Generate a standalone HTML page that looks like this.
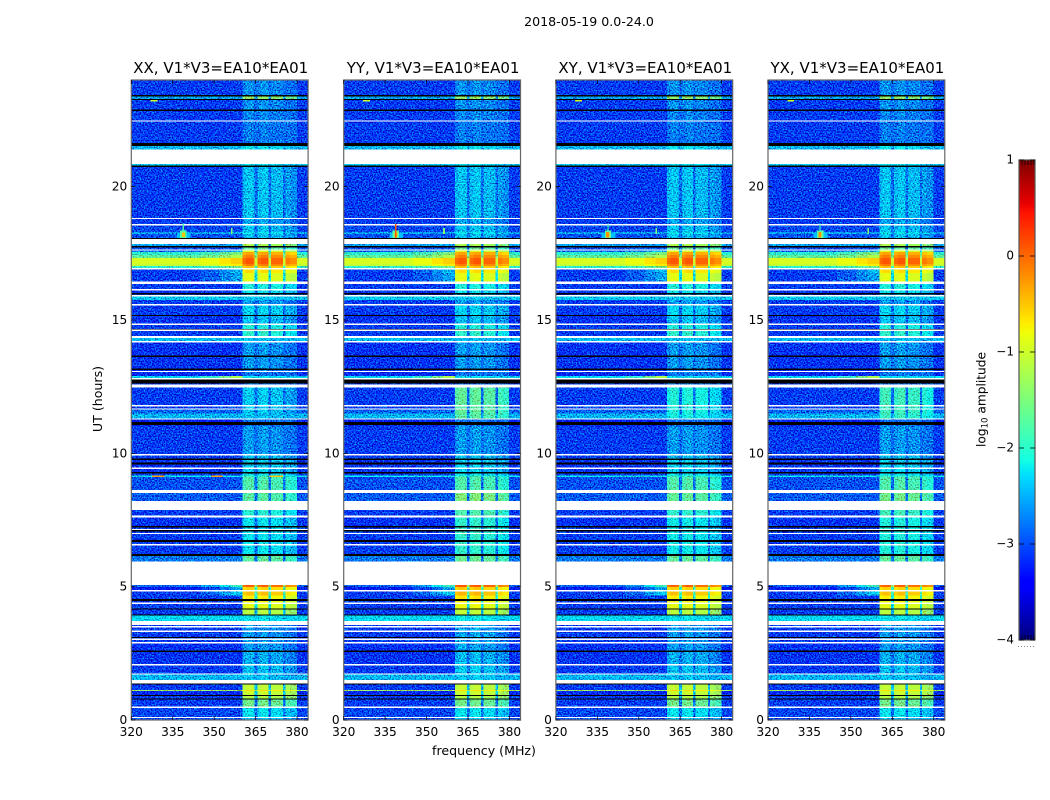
<!DOCTYPE html>
<html lang="en">
<head>
<meta charset="utf-8">
<title>2018-05-19 0.0-24.0</title>
<style>
html,body{margin:0;padding:0;background:#fff;width:1050px;height:800px;overflow:hidden}
svg{display:block}
text{font-family:"DejaVu Sans","Liberation Sans",sans-serif;fill:#000}
</style>
</head>
<body>
<svg id="figure" width="1050" height="800" viewBox="0 0 1050 800" xmlns="http://www.w3.org/2000/svg">
  <defs>
    <filter id="speckle" x="0" y="0" width="1" height="1" filterUnits="objectBoundingBox" color-interpolation-filters="sRGB">
      <feTurbulence type="fractalNoise" baseFrequency="0.72" numOctaves="1" seed="7" result="t"/>
      <feColorMatrix in="t" type="matrix" values="0 0 0 0 0.5  1.9 0 0 0 -0.45  1.4 0 0 0 -0.2  0 0 0 0 1" result="n"/>
      <feComposite in="SourceGraphic" in2="n" operator="arithmetic" k1="0" k2="1" k3="1" k4="-0.5" result="m"/>
      <feComposite in="m" in2="SourceAlpha" operator="in"/>
    </filter>
  </defs>
  <text x="589" y="26" text-anchor="middle" font-size="12.6">2018-05-19 0.0-24.0</text>
  <text x="484" y="755" text-anchor="middle" font-size="12.6">frequency (MHz)</text>
  <text transform="translate(102 399) rotate(-90)" text-anchor="middle" font-size="12.6">UT (hours)</text>
  <text transform="translate(985.5 399.5) rotate(-90)" text-anchor="middle" font-size="12.2">log<tspan font-size="8.6" dy="2">10</tspan><tspan dy="-2"> amplitude</tspan></text>
  <g id="panels"></g>
  <g id="colorbar"></g>
</svg>
<script>
// ---- chart data ----
const N = null;   // no data: white gap
const K = -9;     // masked: black row

const panelTitles = ["XX, V1*V3=EA10*EA01", "YY, V1*V3=EA10*EA01", "XY, V1*V3=EA10*EA01", "YX, V1*V3=EA10*EA01"];
const xTicks = [320, 335, 350, 365, 380];
const yTicks = [0, 5, 10, 15, 20];
const colorTicks = [1, 0, -1, -2, -3, -4];

// UT row boundaries (hours), top to bottom
const timeEdges = [24.00,
  23.44,23.39,23.29,23.25,22.89,22.86,22.49,22.45,21.64,21.53,
  21.39,20.85,20.79,20.75,18.83,18.79,18.60,18.555,18.30,18.225,
  18.075,18.03,17.85,17.775,17.72,17.65,17.62,17.55,17.44,17.325,
  17.10,17.025,16.95,16.90,16.76,16.44,16.35,16.16,16.12,16.01,
  15.975,15.93,15.89,15.75,15.60,15.56,15.19,15.15,14.87,14.83,
  14.67,14.64,14.60,14.40,14.325,14.21,14.175,13.67,13.64,13.18,
  13.14,13.09,13.05,12.90,12.825,12.77,12.62,12.58,12.55,12.525,
  12.49,11.81,11.76,11.69,11.64,11.49,11.31,11.28,11.175,11.055,
  11.00,9.975,9.94,9.80,9.75,9.65,9.59,9.46,9.41,9.30,
  9.24,9.17,9.11,8.625,8.595,8.57,8.54,8.22,7.875,7.66,
  7.59,7.275,7.23,7.16,7.125,7.09,7.02,6.99,6.75,6.675,
  6.60,6.56,6.225,6.15,5.94,5.06,4.98,4.875,4.84,4.66,
  4.53,4.47,4.40,4.36,4.19,4.14,3.96,3.91,3.72,3.56,
  3.525,3.49,3.35,3.31,3.12,3.09,3.05,3.01,2.925,2.895,
  2.60,2.56,2.10,2.06,1.75,1.71,1.50,1.375,1.34,1.125,
  1.09,0.94,0.90,0.81,0.78,0.50,0.46,0.12,0.075,0];

// log10 amplitude outside the signal band, one per row
const rowBackground = [
  -3.1,K,-2.6,K,-3.1,K,-3.1,N,-3.1,K,
  -2.5,N,-2.4,K,-3.1,N,-3.1,N,-3.05,-2.6,
  -3.0,K,N,-2.6,K,-3.0,N,-2.9,-2.0,-1.7,
  -0.95,-1.05,-2.0,N,-3.1,-3.1,N,-3.1,N,-3.15,
  K,-3.1,N,-2.4,-3.1,N,-3.1,K,-3.15,N,
  -3.1,K,N,-3.1,N,-2.45,N,-3.15,K,-3.15,
  K,-3.2,N,-3.2,-2.3,N,K,-3.1,N,-3.1,
  N,-3.1,N,-3.1,N,-2.9,-2.5,N,-3.25,K,
  -3.2,-3.1,N,-3.1,K,-3.15,K,-3.15,N,-3.15,
  K,-3.1,-2.2,-3.0,N,-3.0,N,-2.95,N,-3.1,
  N,-3.15,K,-3.1,N,K,-3.1,N,-3.1,K,
  -3.1,N,-3.1,K,-2.8,N,-2.9,-3.3,N,-3.1,
  -3.1,K,-3.1,N,-3.1,K,-3.1,K,-2.3,N,
  -3.1,N,-3.1,N,-3.1,K,-3.1,N,-3.1,N,
  -3.15,K,-3.15,N,-3.1,N,-2.5,N,K,-3.1,
  -1.3,-3.2,K,-3.1,K,-3.1,N,-3.05,N,-3.05];

// log10 amplitude inside the 360-380 MHz band, one per row (XX reference)
const rowSignal = [
  -2.65,K,-1.35,K,-2.65,K,-2.7,N,-2.75,K,
  -2.2,N,-2.2,K,-2.4,N,-2.55,N,-2.4,-2.2,
  -2.4,K,N,-1.2,K,-1.6,N,-0.9,-0.3,-0.1,
  0.1,-0.1,-0.45,N,-0.6,-0.85,N,-2.05,N,-2.2,
  K,-2.4,N,-2.4,-2.6,N,-2.3,K,-2.4,N,
  -2.05,K,N,-1.95,N,-2.4,N,-2.6,K,-2.6,
  K,-2.7,N,-2.8,-2.2,N,K,-2.8,N,-2.8,
  N,-2.35,N,-2.4,N,-2.35,-2.4,N,-2.85,K,
  -2.8,-2.6,N,-2.4,K,-2.3,K,-2.3,N,-2.3,
  K,-2.2,-1.9,-1.75,N,-1.8,N,-1.7,N,-2.0,
  N,-2.2,K,-2.2,N,K,-2.2,N,-2.2,K,
  -2.2,N,-2.2,K,-1.65,N,0.05,-0.55,N,-0.45,
  -0.7,K,-0.75,N,-0.85,K,-1.1,K,-2.2,N,
  -2.6,N,-2.6,N,-2.6,K,-2.6,N,-2.6,N,
  -2.6,K,-2.5,N,-2.4,N,-2.4,N,K,-1.05,
  -0.6,-1.0,K,-1.15,K,-1.55,N,-2.2,N,-2.4];

// spectral channel boundaries (MHz)
const channelEdges = [320,345,352,356,360.3,361.5,364,364.6,365.6,367,369.7,370.6,372,375,375.8,377.5,379.9,384];
// offset from rowSignal for each channel; null marks a channel outside the band
const channelOffset = [N,N,N,N,-0.1,0,-0.1,-1.4,-0.1,0,-1.4,-0.08,-0.08,-1.4,-0.2,-0.3,N];
// how far each channel leans toward the wing level
const channelWing = [0,0.3,0.7,1,0,0,0,0,0,0,0,0,0,0,0,0,0];

// leakage beside the band in strong rows
const wingHigh  = [17.62,17.55,17.44,17.325,17.10,17.025,16.90,16.76,12.90,5.06,4.98,4.84];
const wingLow   = [17.55,17.44,17.325,17.10,17.025,16.95,16.76,16.44,12.825,4.98,4.875,4.66];
const wingLevel = [-2.5,-1.5,-1.2,-0.55,-0.7,-1.6,-2.5,-2.6,-1.2,-1.9,-2.6,-2.4];

// polarisation offsets of the band level, per time region
const regionHigh = [24,12.6,8.6,6.2,1.5];
const regionLow  = [12.6,11.3,6.2,1.5,0];
const offsetXX = [0,0,0,0,0];
const offsetYY = [0,0.7,0.25,0.05,0];
const offsetXY = [0,0.3,0.05,0,0];
const offsetYX = [0,0.5,0.15,0,0];
const polOffsets = [offsetXX, offsetYY, offsetXY, offsetYX];

// narrow-band interference patches (panel -1 = every panel)
const rfiPanel    = [-1,-1,-1,-1,-1,-1,0,0,0,1,2,3];
const rfiFreqLow  = [336.5,337.7,338.6,338.3,327,356,327.5,349,370,338.6,338.2,338.2];
const rfiFreqHigh = [341.5,340,339,339.4,329.5,356.6,332,353,375,339.1,339.2,339.2];
const rfiHourHigh = [18.26,18.36,18.62,18.28,23.25,18.45,9.16,9.16,9.16,18.6,18.3,18.3];
const rfiHourLow  = [18.08,18.08,18.08,18.12,23.20,18.22,9.12,9.12,9.12,18.08,18.1,18.1];
const rfiLevel    = [-2.45,-1.7,-1.8,-0.5,-1.0,-1.5,-0.3,-0.3,-0.5,0.1,-0.2,-0.2];

// ---- layout and scales ----
const SVGNS = "http://www.w3.org/2000/svg";
const panelLeft = [131.3, 343.7, 555.9, 768];
const panelWidth = 176.8;
const plotTop = 80, plotBottom = 720;
const cbLeft = 1019, cbRight = 1035, cbTop = 160, cbBottom = 640;
const hotLevel = -1.3;      // cells above this are drawn without speckle
const bandFloor = -2.85;    // lowest level inside the band

function xScale(mhz, p) { return panelLeft[p] + (mhz - 320) / 64 * panelWidth; }
function yScale(h) { return plotBottom - h / 24 * (plotBottom - plotTop); }
function cbScale(v) { return cbBottom - (v + 4) / 5 * (cbBottom - cbTop); }

function seg(t, pts) {
  for (let i = 1; i < pts.length; i++) {
    if (t <= pts[i][0]) {
      const a = pts[i - 1], b = pts[i];
      return a[1] + (b[1] - a[1]) * (t - a[0]) / (b[0] - a[0]);
    }
  }
  return pts[pts.length - 1][1];
}
const jetR = [[0,0],[0.35,0],[0.66,1],[0.89,1],[1,0.5]];
const jetG = [[0,0],[0.125,0],[0.375,1],[0.64,1],[0.91,0],[1,0]];
const jetB = [[0,0.5],[0.11,1],[0.34,1],[0.65,0],[1,0]];
function jet(v) {
  const t = Math.min(1, Math.max(0, (v + 4) / 5));
  return "rgb(" + Math.round(seg(t, jetR) * 255) + "," + Math.round(seg(t, jetG) * 255) + "," + Math.round(seg(t, jetB) * 255) + ")";
}
function make(tag, attrs, parent) {
  const e = document.createElementNS(SVGNS, tag);
  for (const k in attrs) e.setAttribute(k, attrs[k]);
  parent.appendChild(e);
  return e;
}
function wingAt(high, low) {
  for (let i = 0; i < wingHigh.length; i++) {
    if (high <= wingHigh[i] + 1e-6 && low >= wingLow[i] - 1e-6) return wingLevel[i];
  }
  return null;
}
function polOffsetAt(p, high) {
  for (let i = 0; i < regionHigh.length; i++) {
    if (high <= regionHigh[i] && high > regionLow[i]) return polOffsets[p][i];
  }
  return 0;
}

// ---- draw panels ----
const panelsRoot = document.getElementById("panels");
panelTitles.forEach(function (title, p) {
  const g = make("g", {}, panelsRoot);
  
  

  const heat = make("g", { filter: "url(#speckle)", "shape-rendering": "crispEdges" }, g);
  
  
  const hot = make("g", { "shape-rendering": "crispEdges" }, g);
  
  
  const masks = make("g", { "shape-rendering": "crispEdges" }, g);
  
  

  for (let r = 0; r < rowBackground.length; r++) {
    const high = timeEdges[r], low = timeEdges[r + 1];
    const bg = rowBackground[r], sig = rowSignal[r];
    if (bg === N || bg === K) {
      const bar = make("rect", {
        x: xScale(320, p),
        y: yScale(high),
        width: panelWidth,
        height: Math.max(1.3, yScale(low) - yScale(high)),
        fill: bg === K ? "#000" : "#fff"
      }, masks);
      
      
      continue;
    }
    const wing = wingAt(high, low);
    const pol = polOffsetAt(p, high);
    for (let c = 0; c < channelOffset.length; c++) {
      let v;
      if (channelOffset[c] === N) {
        v = wing === null ? bg : bg + (wing - bg) * channelWing[c];
      } else {
        v = Math.max(bandFloor, bg - 0.05, sig + pol + channelOffset[c]);
      }
      const cell = make("rect", {
        x: xScale(channelEdges[c], p),
        y: yScale(high),
        width: xScale(channelEdges[c + 1], p) - xScale(channelEdges[c], p),
        height: yScale(low) - yScale(high),
        fill: jet(v)
      }, v > hotLevel ? hot : heat);
      
      
    }
  }

  for (let i = 0; i < rfiLevel.length; i++) {
    if (rfiPanel[i] !== -1 && rfiPanel[i] !== p) continue;
    const patch = make("rect", {
      x: xScale(rfiFreqLow[i], p),
      y: yScale(rfiHourHigh[i]),
      width: xScale(rfiFreqHigh[i], p) - xScale(rfiFreqLow[i], p),
      height: yScale(rfiHourLow[i]) - yScale(rfiHourHigh[i]),
      fill: jet(rfiLevel[i]),
      "shape-rendering": "crispEdges"
    }, g);
    
    
  }

  const frame = make("rect", { x: panelLeft[p], y: plotTop, width: panelWidth, height: plotBottom - plotTop, fill: "none", stroke: "#666", "stroke-width": 1.2 }, g);
  
  

  const titleEl = make("text", { x: panelLeft[p] + panelWidth / 2 + 1, y: 73, "text-anchor": "middle", "font-size": 15 }, g);
  titleEl.textContent = title;
  
  

  xTicks.forEach(function (t) {
    const x = xScale(t, p);
    const tickB = make("line", { x1: x, x2: x, y1: plotBottom, y2: plotBottom - 4, stroke: "#000", "stroke-width": 0.7 }, g);
    
    
    const tickT = make("line", { x1: x, x2: x, y1: plotTop, y2: plotTop + 4, stroke: "#000", "stroke-width": 0.7 }, g);
    
    
    const label = make("text", { x: x, y: 736, "text-anchor": "middle", "font-size": 12.2 }, g);
    label.textContent = t;
    
    
  });

  yTicks.forEach(function (t) {
    const y = yScale(t);
    const tickL = make("line", { x1: panelLeft[p], x2: panelLeft[p] + 4, y1: y, y2: y, stroke: "#000", "stroke-width": 0.7 }, g);
    
    
    const tickR = make("line", { x1: panelLeft[p] + panelWidth, x2: panelLeft[p] + panelWidth - 4, y1: y, y2: y, stroke: "#000", "stroke-width": 0.7 }, g);
    
    
    const label = make("text", { x: panelLeft[p] - 4, y: y + 4, "text-anchor": "end", "font-size": 12.2 }, g);
    label.textContent = t;
    
    
  });
});

// ---- draw colorbar ----
const cbRoot = document.getElementById("colorbar");
for (let py = cbTop; py < cbBottom; py += 2) {
  const level = 1 - (py + 1 - cbTop) / (cbBottom - cbTop) * 5;
  const band = make("rect", { x: cbLeft, y: py, width: cbRight - cbLeft, height: 2, fill: jet(level), "shape-rendering": "crispEdges" }, cbRoot);
  
  
}
const cbFrame = make("rect", { x: cbLeft, y: cbTop, width: cbRight - cbLeft, height: cbBottom - cbTop, fill: "none", stroke: "#555", "stroke-width": 1.2 }, cbRoot);


colorTicks.forEach(function (v) {
  const y = cbScale(v);
  const a = make("line", { x1: cbLeft, x2: cbLeft + 5, y1: y, y2: y, stroke: "#000", "stroke-width": 0.8 }, cbRoot);
  
  
  const b = make("line", { x1: cbRight - 5, x2: cbRight, y1: y, y2: y, stroke: "#000", "stroke-width": 0.8 }, cbRoot);
  
  
  const label = make("text", { x: 1014, y: y + 3.5, "text-anchor": "end", "font-size": 12 }, cbRoot);
  label.textContent = String(v).replace("-", "\u2212");
  
  
});
for (let x = cbLeft + 3; x < cbRight; x += 3) {
  const t1 = make("line", { x1: x, x2: x, y1: cbTop, y2: cbTop + 5, stroke: "#000", "stroke-width": 0.7 }, cbRoot);
  
  
  const t2 = make("line", { x1: x, x2: x, y1: cbBottom, y2: cbBottom - 5, stroke: "#000", "stroke-width": 0.7 }, cbRoot);
  
  
}
for (let x = cbLeft - 1; x <= cbRight; x += 3) {
  const dot = make("rect", { x: x, y: 646, width: 1, height: 1, fill: "#888" }, cbRoot);
  
  
}
</script>
</body>
</html>
